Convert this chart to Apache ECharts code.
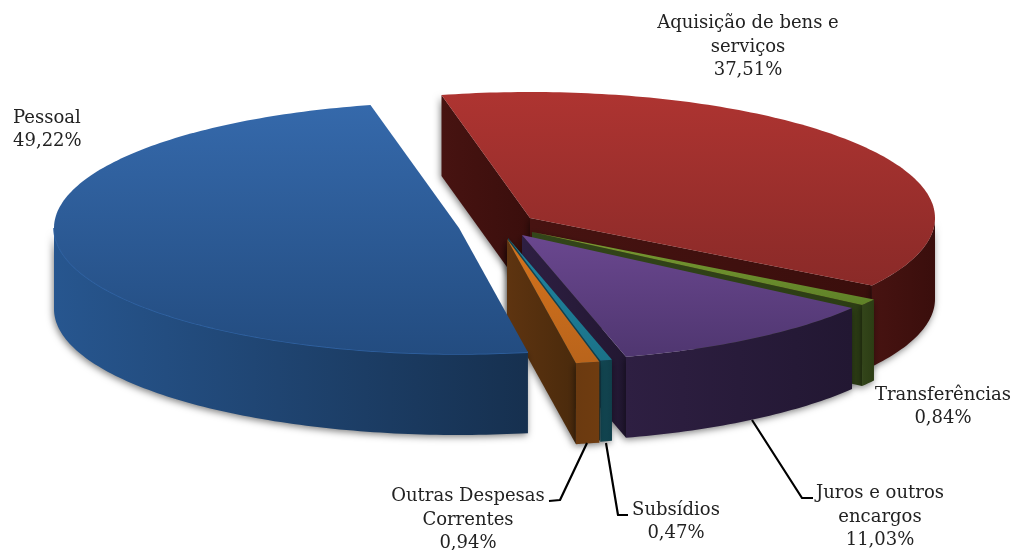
<!DOCTYPE html>
<html>
<head>
<meta charset="utf-8">
<style>
  html, body { margin: 0; padding: 0; background: #fff; }
  #main { width: 1011px; height: 550px; }
</style>
<script src="https://cdn.jsdelivr.net/npm/echarts@6/dist/echarts.min.js"></script>
</head>
<body>
<div id="main"></div>
<script>
// chart data, clockwise order
const categories = ['Pessoal', 'Aquisição de bens e\nserviços', 'Transferências', 'Juros e outros\nencargos', 'Subsídios', 'Outras Despesas\nCorrentes'];
const shares = [49.22, 37.51, 0.84, 11.03, 0.47, 0.94];

// 3d pie layout
const firstAngle = 170.2;
const radiusX = 405;
const radiusY = 126;
const depth = 81;
const centers = [[459, 228], [530, 218], [532, 232], [522, 235], [508, 238], [507, 239]];
const drawOrder = [1, 2, 3, 4, 5, 0];

const topColors = [
  ['#3569ab', '#234c80'], ['#ae3431', '#8a2a28'], ['#7a9c32', '#5f8128'],
  ['#6a478f', '#4f3670'], ['#1f87a3', '#1b7288'], ['#d5731d', '#b9641b']
];
const wallColors = [
  ['#27568f', '#16304f'], ['#471311', '#3a0e0c'], ['#33451a', '#2c3d14'],
  ['#2e1f42', '#221732'], ['#124753', '#103f4a'], ['#5e3410', '#4a2a0c']
];
const arcWallColors = [
  wallColors[0], wallColors[1], wallColors[2], wallColors[3], wallColors[4], ['#6b3a10', '#6f3c10']
];

// label text position, align, leader line
const labelLayout = [
  { x: 13, y: 130, align: 'left' },
  { x: 748, y: 47, align: 'center' },
  { x: 943, y: 407, align: 'center' },
  { x: 880, y: 517, align: 'center', leader: [[752, 420], [802, 498], [813, 498]] },
  { x: 676, y: 522, align: 'center', leader: [[606, 443], [618, 515], [628, 515]] },
  { x: 468, y: 520, align: 'center', leader: [[587, 443], [560, 500], [549, 501]] }
];

const total = shares.reduce((a, b) => a + b, 0);
let running = 0;
const angles = shares.map(v => {
  const from = echarts.number.linearMap(running, [0, total], [firstAngle, firstAngle + 360]);
  running += v;
  const to = echarts.number.linearMap(running, [0, total], [firstAngle, firstAngle + 360]);
  return [from, to];
});

const percentText = v => v.toFixed(2).replace('.', ',') + '%';

function renderSlice(params, api) {
  const i = api.value(0);
  const c = centers[i];
  const from = angles[i][0];
  const to = angles[i][1];
  const pt = (deg, dz) => {
    const a = deg * Math.PI / 180;
    return api.coord([c[0] + radiusX * Math.sin(a), c[1] - radiusY * Math.cos(a) + (dz || 0)]);
  };
  const arc = (a0, a1, dz) => {
    const pts = [];
    const n = Math.max(2, Math.ceil(a1 - a0));
    for (let k = 0; k <= n; k++) pts.push(pt(a0 + (a1 - a0) * k / n, dz));
    return pts;
  };
  const apex = api.coord(c);
  const apexLow = api.coord([c[0], c[1] + depth]);
  const shadow = { shadowBlur: 7, shadowColor: 'rgba(0,0,0,0.5)', shadowOffsetX: -1, shadowOffsetY: 2 };
  const children = [];

  const sideFill = (colors) => new echarts.graphic.LinearGradient(0, 0, 1, 0, [
    { offset: 0, color: colors[0] },
    { offset: 1, color: colors[1] }
  ]);

  // radial walls that face the viewer
  const radial = (deg) => children.push({
    type: 'polygon',
    shape: { points: [apex, pt(deg), pt(deg, depth), apexLow] },
    style: Object.assign({ fill: sideFill(wallColors[i]) }, shadow)
  });
  if (Math.sin(from * Math.PI / 180) < 0) radial(from);
  if (Math.sin(to * Math.PI / 180) > 0) radial(to);

  // outer wall, front half only
  const spans = [[90, 270], [450, 630]];
  spans.forEach(s => {
    const a0 = Math.max(from, s[0]);
    const a1 = Math.min(to, s[1]);
    if (a1 <= a0) return;
    const upper = arc(a0, a1, 0);
    const lower = arc(a0, a1, depth).reverse();
    children.push({
      type: 'polygon',
      shape: { points: upper.concat(lower) },
      style: Object.assign({ fill: sideFill(arcWallColors[i]) }, shadow)
    });
    if (i === 0) {
      children.push({
        type: 'polyline',
        shape: { points: upper },
        style: { stroke: '#2f62a3', lineWidth: 1.5, fill: null }
      });
    }
  });

  // top face
  children.push({
    type: 'polygon',
    shape: { points: [apex].concat(arc(from, to, 0)) },
    style: {
      fill: new echarts.graphic.LinearGradient(0, 0, 0, 1, [
        { offset: 0, color: topColors[i][0] },
        { offset: 1, color: topColors[i][1] }
      ])
    }
  });

  // label
  const lay = labelLayout[i];
  const anchor = api.coord([lay.x, lay.y]);
  children.push({
    type: 'text',
    z2: 50,
    style: {
      text: categories[i] + '\n' + percentText(shares[i]),
      x: anchor[0],
      y: anchor[1],
      align: lay.align,
      verticalAlign: 'middle',
      lineHeight: 23.5,
      font: '18px "DejaVu Serif"',
      fill: '#222'
    }
  });
  if (lay.leader) {
    children.push({
      type: 'polyline',
      z2: 50,
      shape: { points: lay.leader.map(p => api.coord(p)) },
      style: { stroke: '#000', lineWidth: 2.2, fill: null, lineJoin: 'round' }
    });
  }
  return { type: 'group', children: children };
}

const myChart = echarts.init(document.getElementById('main'));
const option = {
  animation: false,
  backgroundColor: '#fff',
  grid: { left: 0, right: 0, top: 0, bottom: 0 },
  xAxis: { type: 'value', min: 0, max: 1011, show: false },
  yAxis: { type: 'value', min: 0, max: 550, inverse: true, show: false },
  series: [
    {
      type: 'custom',
      coordinateSystem: 'cartesian2d',
      renderItem: renderSlice,
      clip: false,
      encode: { x: 0, y: 1 },
      data: drawOrder.map(i => [i, shares[i]])
    }
  ]
};
myChart.setOption(option);
</script>
</body>
</html>
